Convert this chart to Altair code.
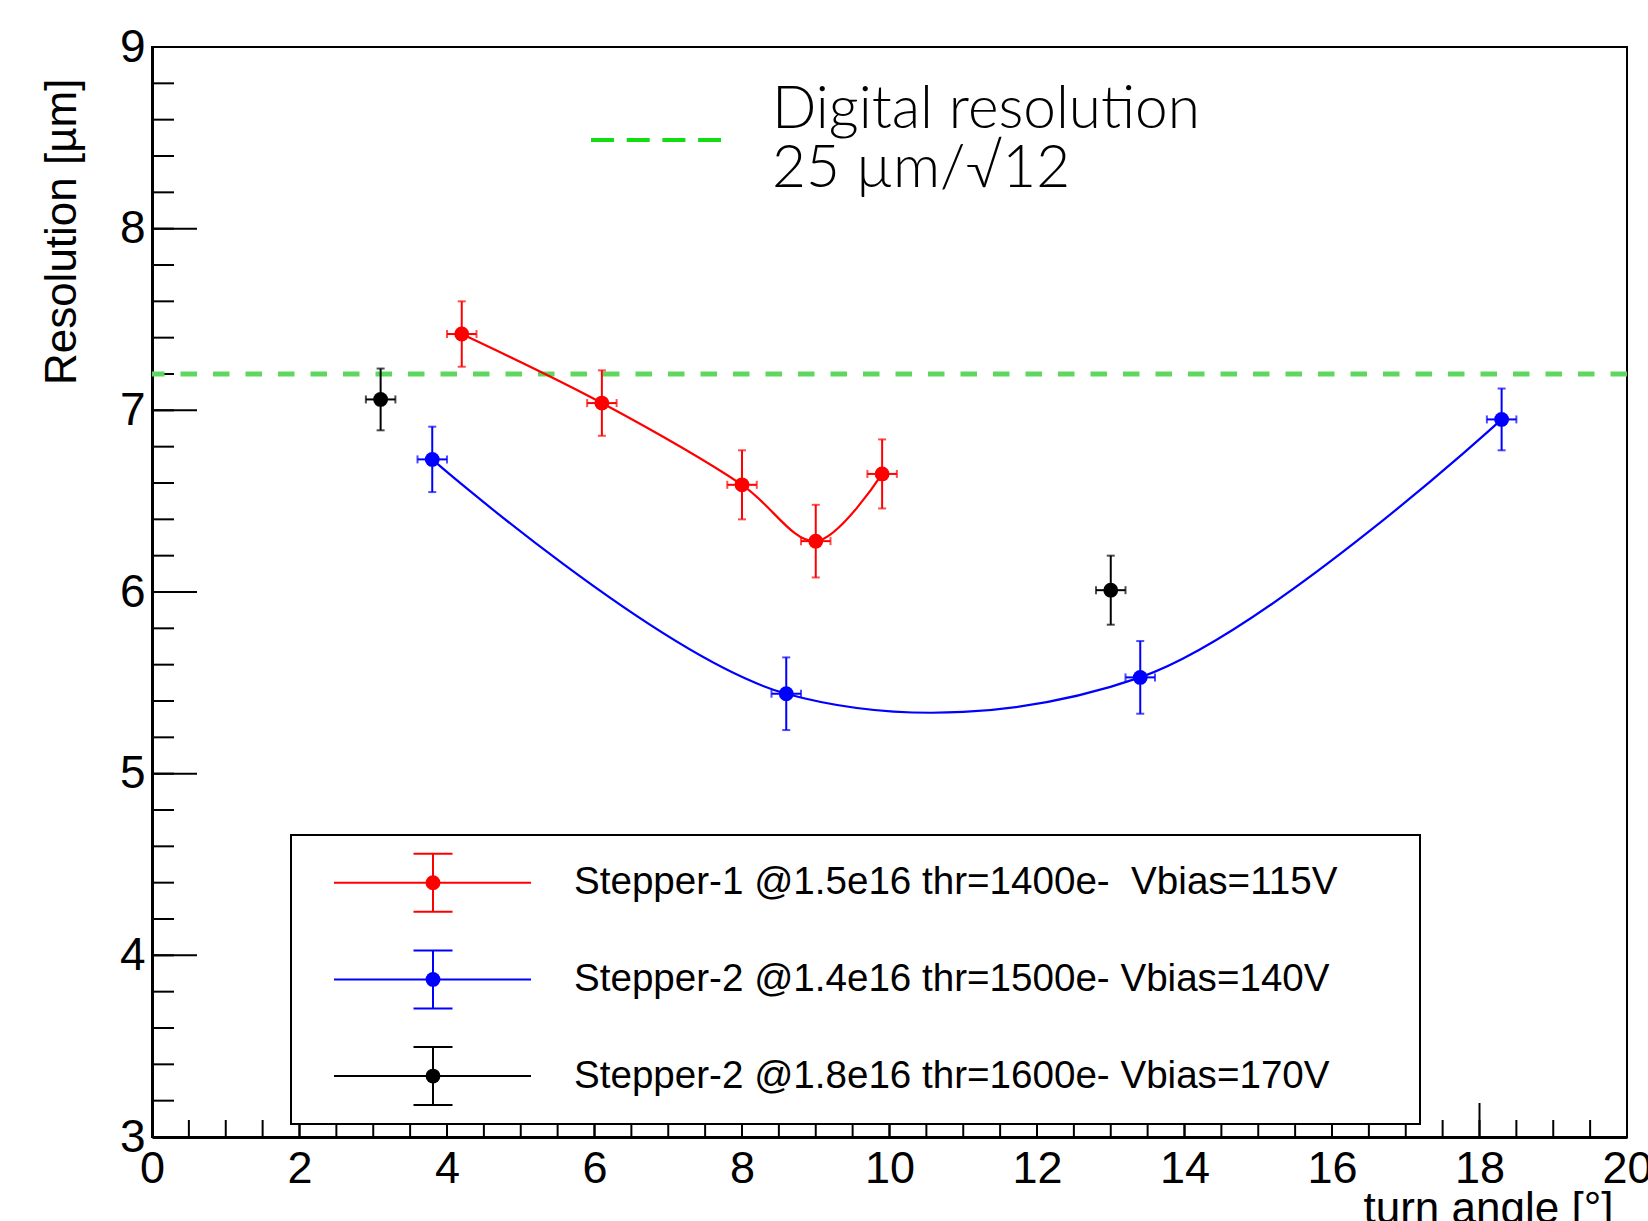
import altair as alt
import pandas as pd

W, H = 1475, 1090
FONT = "Liberation Sans"

# ---- data ----
series_names = [
    "Stepper-1 @1.5e16 thr=1400e-\u00a0 Vbias=115V",
    "Stepper-2 @1.4e16 thr=1500e- Vbias=140V",
    "Stepper-2 @1.8e16 thr=1600e- Vbias=170V",
]
series_colors = ["#ff0000", "#0000ff", "#000000"]

red_x = [4.2, 6.1, 8.0, 9.0, 9.9]
red_y = [7.42, 7.04, 6.59, 6.28, 6.65]
red_xerr = [0.2, 0.2, 0.2, 0.2, 0.2]
red_yerr = [0.18, 0.18, 0.19, 0.20, 0.19]

blue_x = [3.8, 8.6, 13.4, 18.3]
blue_y = [6.73, 5.44, 5.53, 6.95]
blue_xerr = [0.2, 0.2, 0.2, 0.2]
blue_yerr = [0.18, 0.20, 0.20, 0.17]

black_x = [3.1, 13.0]
black_y = [7.06, 6.01]
black_xerr = [0.2, 0.2]
black_yerr = [0.17, 0.19]

digital_level = [7.2]
annot_lines = ["Digital resolution", "25 \u00b5m/\u221a12"]

x_major = [0, 2, 4, 6, 8, 10, 12, 14, 16, 18, 20]
x_minor = [i * 0.5 for i in range(41)]
y_major = [3, 4, 5, 6, 7, 8, 9]
y_minor = [3 + i * 0.2 for i in range(31)]

# ---- build table ----
rows = []
for name, xs, ys, xe, ye in [
    (series_names[0], red_x, red_y, red_xerr, red_yerr),
    (series_names[1], blue_x, blue_y, blue_xerr, blue_yerr),
    (series_names[2], black_x, black_y, black_xerr, black_yerr),
]:
    for x, y, dx, dy in zip(xs, ys, xe, ye):
        rows.append(dict(series=name, x=x, y=y, xlo=x - dx, xhi=x + dx,
                         ylo=y - dy, yhi=y + dy))
df = pd.DataFrame(rows)

xscale = alt.Scale(domain=[0, 20], nice=False, zero=False)
yscale = alt.Scale(domain=[3, 9], nice=False, zero=False)

xaxis = alt.Axis(values=x_major, ticks=False, tickSize=0, grid=False,
                 domain=True, domainColor="black", domainWidth=3,
                 labelFont=FONT, labelFontSize=45, labelColor="black",
                 labelPadding=9, labelFlush=False, labelOverlap=False,
                 labelBound=False, format="d",
                 title="turn angle [\u00b0]", titleFont=FONT, titleFontSize=44,
                 titleFontWeight="normal", titleColor="black",
                 titleX=1461, titleY=85, titleAlign="right",
                 titleBaseline="alphabetic")
yaxis = alt.Axis(values=y_major, ticks=False, tickSize=0, grid=False,
                 domain=True, domainColor="black", domainWidth=3,
                 labelFont=FONT, labelFontSize=46, labelColor="black",
                 labelPadding=7, labelFlush=False, labelOverlap=False,
                 labelBound=False, format="d",
                 title="Resolution [\u00b5m]", titleFont=FONT, titleFontSize=44,
                 titleFontWeight="normal", titleColor="black",
                 titleX=-77, titleY=31, titleAlign="right", titleAngle=270,
                 titleBaseline="alphabetic")


def X(f):
    return alt.X(f, type="quantitative", scale=xscale, axis=xaxis)


def Y(f):
    return alt.Y(f, type="quantitative", scale=yscale, axis=yaxis)


color = alt.Color("series:N", scale=alt.Scale(domain=series_names, range=series_colors),
                  legend=None)

layers = []

# axis ticks (inward, ROOT style)
ymaj = alt.Chart(pd.DataFrame({"v": y_major})).mark_rule(color="black", strokeWidth=2).encode(
    y=Y("v"), x=alt.value(0), x2=alt.value(45))
ymin = alt.Chart(pd.DataFrame({"v": y_minor})).mark_rule(color="black", strokeWidth=2).encode(
    y=Y("v"), x=alt.value(0), x2=alt.value(22))
xmaj = alt.Chart(pd.DataFrame({"v": x_major})).mark_rule(color="black", strokeWidth=2).encode(
    x=X("v"), y=alt.value(H), y2=alt.value(H - 34))
xmin = alt.Chart(pd.DataFrame({"v": x_minor})).mark_rule(color="black", strokeWidth=2).encode(
    x=X("v"), y=alt.value(H), y2=alt.value(H - 17))
layers += [ymaj, ymin, xmaj, xmin]

# digital resolution line
green = alt.Chart(pd.DataFrame({"level": digital_level})).mark_rule(
    color="#5fd75f", strokeWidth=5, strokeDash=[16.5, 16]).encode(y=Y("level"))
layers.append(green)

base = alt.Chart(df)
curves = base.transform_filter(
    alt.FieldOneOfPredicate(field="series", oneOf=series_names[:2])
).mark_line(interpolate="catmull-rom", strokeWidth=2.2).encode(x=X("x"), y=Y("y"), color=color)
verr = base.mark_rule(strokeWidth=2).encode(x=X("x"), y=Y("ylo"), y2="yhi", color=color)
herr = base.mark_rule(strokeWidth=2).encode(x=X("xlo"), x2="xhi", y=Y("y"), color=color)
cap_lo = base.mark_tick(orient="horizontal", size=8, thickness=2).encode(x=X("x"), y=Y("ylo"), color=color)
cap_hi = base.mark_tick(orient="horizontal", size=8, thickness=2).encode(x=X("x"), y=Y("yhi"), color=color)
cap_l = base.mark_tick(orient="vertical", size=8, thickness=2).encode(x=X("xlo"), y=Y("y"), color=color)
cap_r = base.mark_tick(orient="vertical", size=8, thickness=2).encode(x=X("xhi"), y=Y("y"), color=color)
pts = base.mark_circle(size=220, opacity=1).encode(x=X("x"), y=Y("y"), color=color)
layers += [curves, verr, herr, cap_lo, cap_hi, cap_l, cap_r, pts]

# legend box (ROOT TLegend)
one = pd.DataFrame({"a": [0]})
box = alt.Chart(one).mark_rect(fill="white", stroke="black", strokeWidth=2).encode(
    x=alt.value(139), x2=alt.value(1268), y=alt.value(788), y2=alt.value(1077))
layers.append(box)

row0, row_step = 835.7, 96.7
for i, (name, col) in enumerate(zip(series_names, series_colors)):
    ry = row0 + i * row_step
    d = pd.DataFrame({"label": [name]})
    c = alt.Chart(d)
    layers += [
        c.mark_rule(color=col, strokeWidth=2).encode(x=alt.value(182), x2=alt.value(379), y=alt.value(ry)),
        c.mark_rule(color=col, strokeWidth=2).encode(x=alt.value(281), y=alt.value(ry - 29), y2=alt.value(ry + 29)),
        c.mark_rule(color=col, strokeWidth=2).encode(x=alt.value(261.5), x2=alt.value(300.5), y=alt.value(ry - 29)),
        c.mark_rule(color=col, strokeWidth=2).encode(x=alt.value(261.5), x2=alt.value(300.5), y=alt.value(ry + 29)),
        c.mark_circle(color=col, size=220, opacity=1).encode(x=alt.value(281), y=alt.value(ry)),
        c.mark_text(align="left", baseline="alphabetic", font=FONT, fontSize=38.6, color="black").encode(
            x=alt.value(422), y=alt.value(ry + 11.5), text="label:N"),
    ]

# annotation
layers.append(alt.Chart(one).mark_rule(color="#11dd11", strokeWidth=4, strokeDash=[23, 12.7]).encode(
    x=alt.value(439), x2=alt.value(571), y=alt.value(93)))
for j, t in enumerate(annot_lines):
    layers.append(alt.Chart(pd.DataFrame({"t": [t]})).mark_text(
        align="left", baseline="alphabetic", font="Lato", fontWeight=300, fontSize=58.5, color="black"
    ).encode(x=alt.value(620), y=alt.value(81 + j * 59), text="t:N"))

chart = alt.layer(*layers).properties(
    width=W, height=H,
    padding={"left": 152, "top": 47, "right": 21, "bottom": 84},
    autosize=alt.AutoSizeParams(type="none"),
    background="white",
).configure_view(stroke="black", strokeWidth=2)

chart.save("out.html", embed_options={"renderer": "svg", "actions": False})
